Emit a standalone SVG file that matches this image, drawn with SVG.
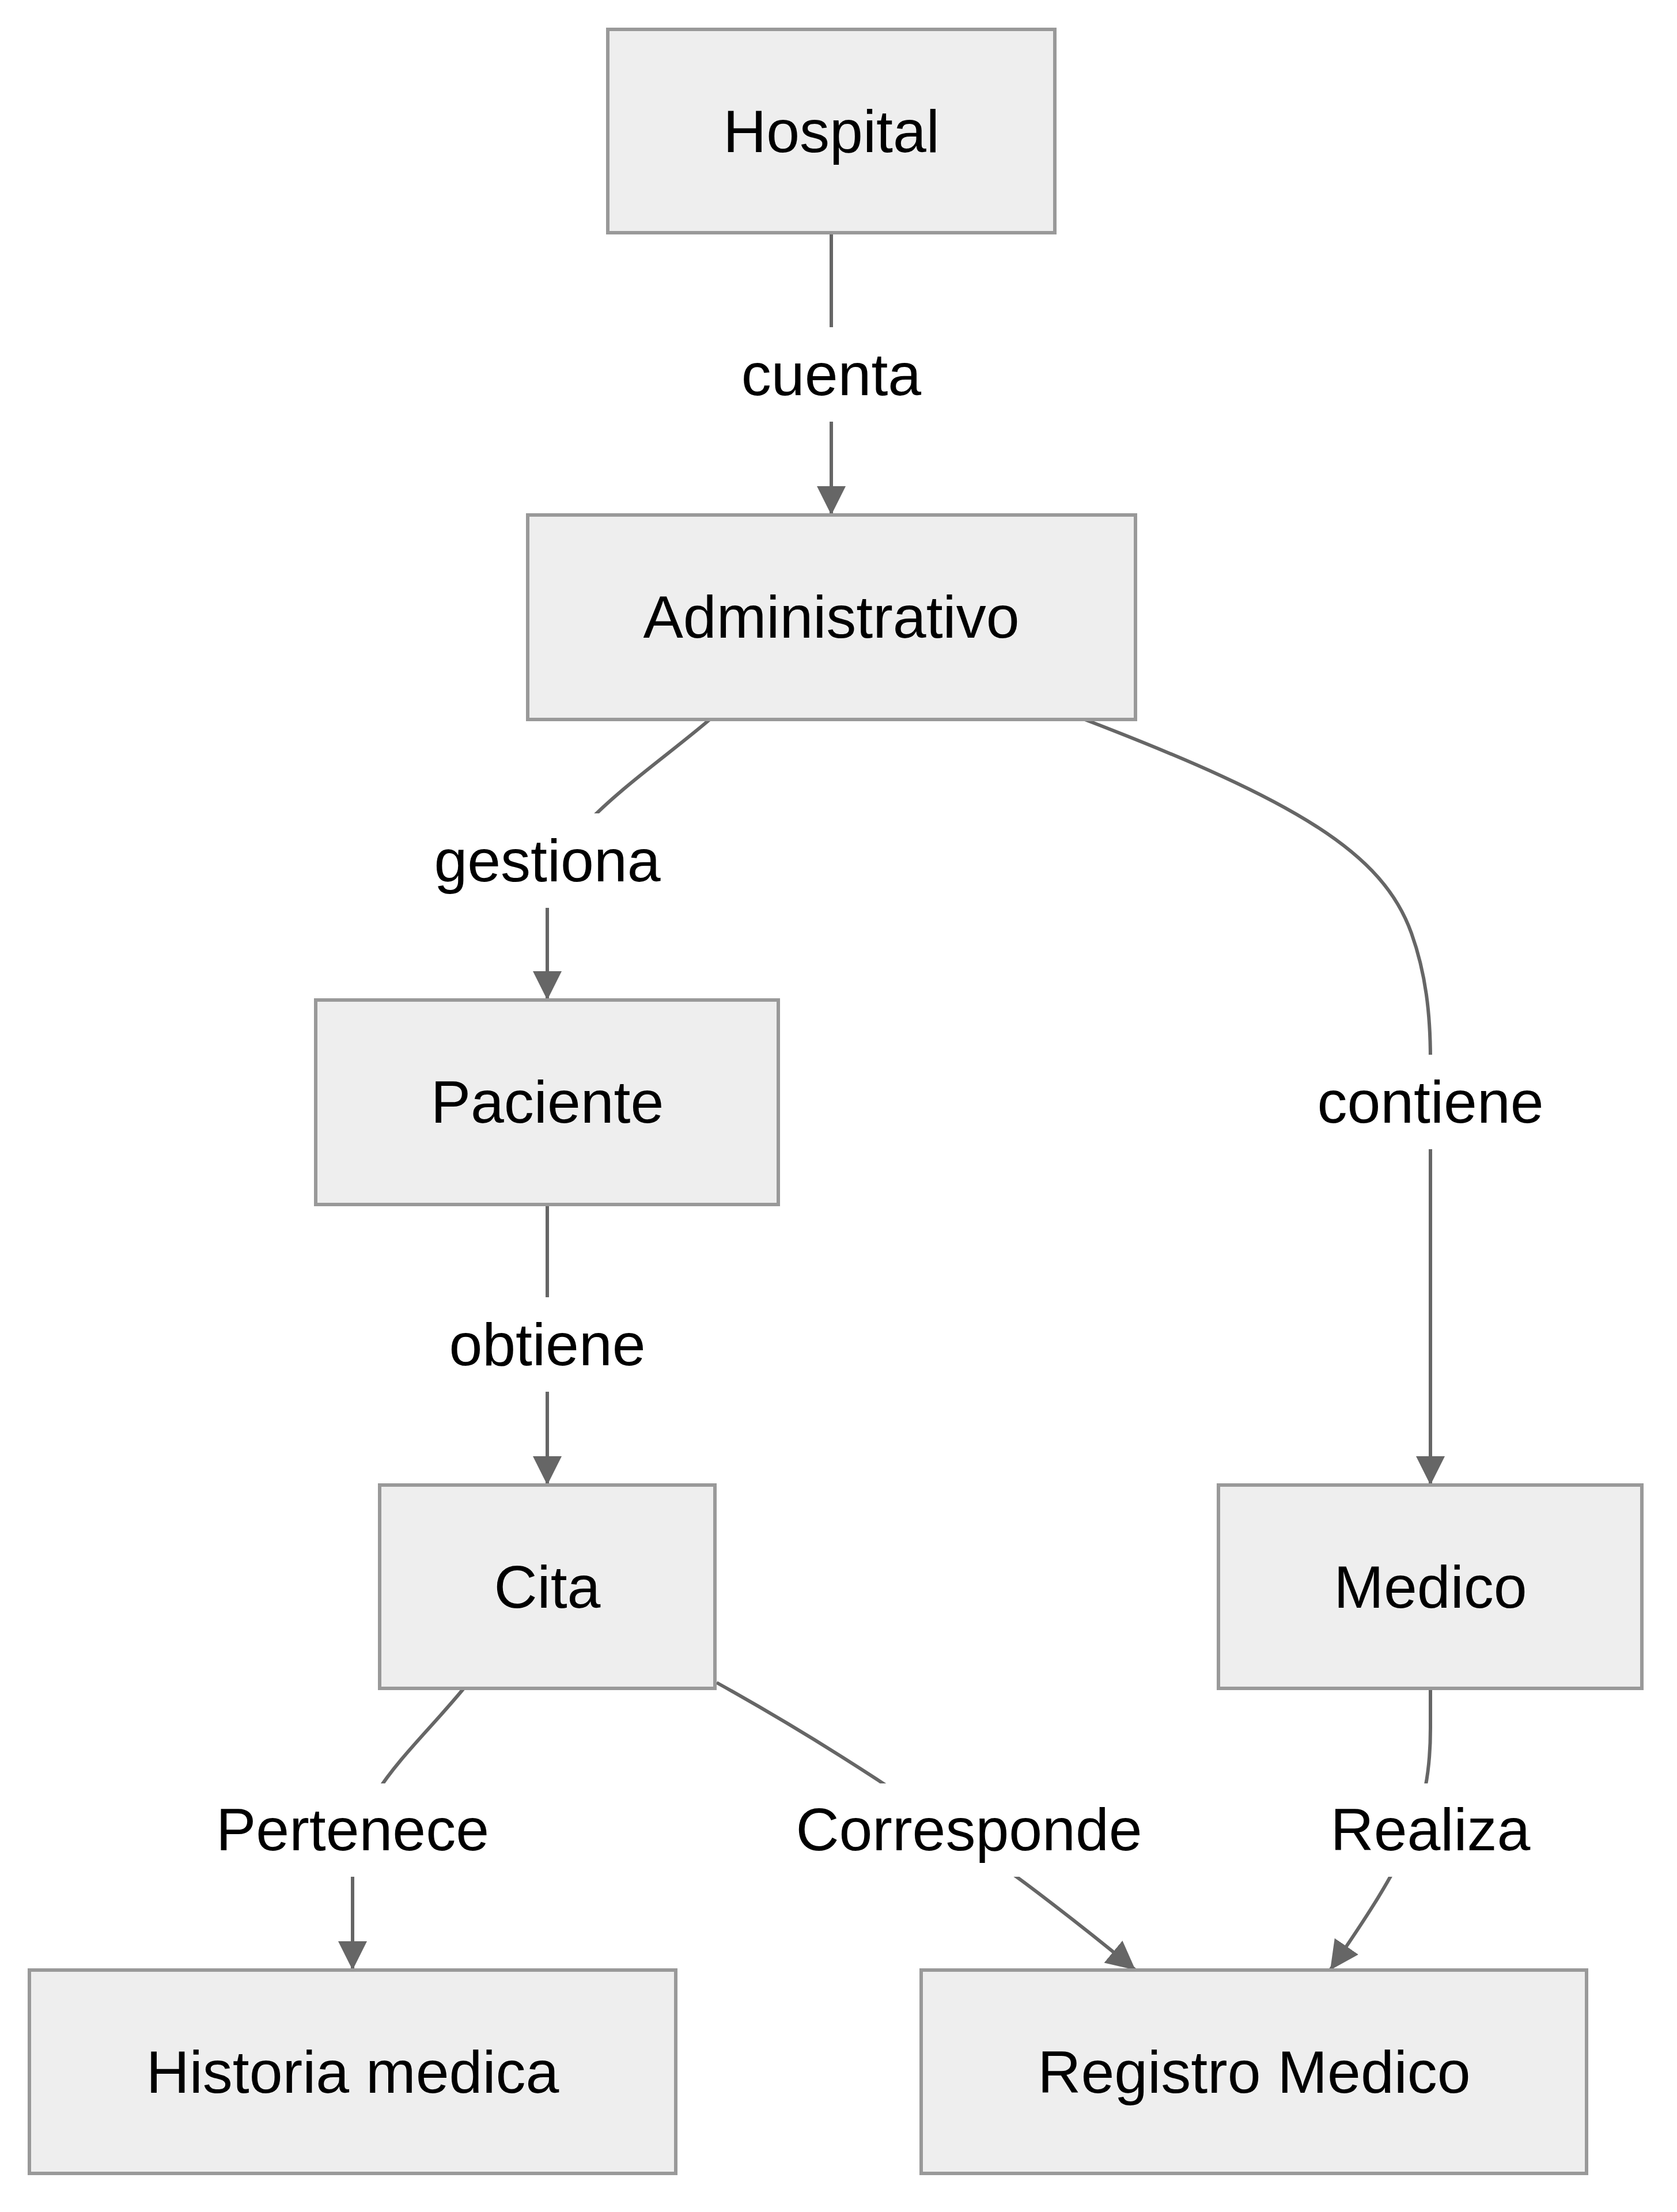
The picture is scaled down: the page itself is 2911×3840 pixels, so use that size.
<svg xmlns="http://www.w3.org/2000/svg" width="2911" height="3840" viewBox="0 0 2911 3840">
<style>
.node rect{fill:#eeeeee;stroke:#999999;stroke-width:6}
.node text,.label text{font-family:"Liberation Sans",Arial,sans-serif;font-size:104px;fill:#000;text-anchor:middle;dominant-baseline:central}
.edge{fill:none;stroke:#666666;stroke-width:6}
.label rect{fill:#ffffff}
</style>
<defs>
<marker id="arrow" viewBox="0 0 10 10" refX="10" refY="5" markerUnits="userSpaceOnUse" markerWidth="50" markerHeight="50" orient="auto">
<path d="M0,0 L10,5 L0,10 z" fill="#666666"/>
</marker>
</defs>
<rect width="2911" height="3840" fill="#ffffff"/>
<g id="connectors">
<path class="edge" d="M1443,404 L1443,894" marker-end="url(#arrow)"/>
<path class="edge" d="M1232,1249 C1120,1345 950,1450 950,1560 L950,1736" marker-end="url(#arrow)"/>
<path class="edge" d="M1883,1249 C2250,1390 2400,1480 2450,1620 C2475,1690 2483,1760 2483,1840 L2483,2578" marker-end="url(#arrow)"/>
<path class="edge" d="M950,2091 L950,2578" marker-end="url(#arrow)"/>
<path class="edge" d="M805,2931 C720,3035 612,3120 612,3240 L612,3420" marker-end="url(#arrow)"/>
<path class="edge" d="M1244,2921 Q1620,3130 1971,3420" marker-end="url(#arrow)"/>
<path class="edge" d="M2483,2931 L2483,3000 C2483,3150 2440,3230 2309,3420" marker-end="url(#arrow)"/>
<g class="label"><rect x="1283" y="568" width="320" height="164"/><text x="1443" y="650">cuenta</text></g>
<g class="label"><rect x="750" y="1412" width="400" height="164"/><text x="950" y="1494">gestiona</text></g>
<g class="label"><rect x="2283" y="1831" width="400" height="164"/><text x="2483" y="1913">contiene</text></g>
<g class="label"><rect x="776" y="2252" width="348" height="164"/><text x="950" y="2334">obtiene</text></g>
<g class="label"><rect x="372" y="3096" width="480" height="162"/><text x="612" y="3176">Pertenece</text></g>
<g class="label"><rect x="1379" y="3096" width="606" height="162"/><text x="1682" y="3176">Corresponde</text></g>
<g class="label"><rect x="2306" y="3096" width="354" height="162"/><text x="2483" y="3176">Realiza</text></g>
</g>
<g id="hospital" class="node"><rect x="1055" y="51" width="776" height="353"/><text x="1443" y="228">Hospital</text></g>
<g id="administrativo" class="node"><rect x="916" y="894" width="1055" height="355"/><text x="1443" y="1071">Administrativo</text></g>
<g id="paciente" class="node"><rect x="548" y="1736" width="803" height="355"/><text x="950" y="1913">Paciente</text></g>
<g id="cita" class="node"><rect x="659" y="2578" width="582" height="353"/><text x="950" y="2755">Cita</text></g>
<g id="medico" class="node"><rect x="2115" y="2578" width="735" height="353"/><text x="2483" y="2755">Medico</text></g>
<g id="historia" class="node"><rect x="51" y="3420" width="1122" height="353"/><text x="612" y="3597">Historia medica</text></g>
<g id="registro" class="node"><rect x="1599" y="3420" width="1155" height="353"/><text x="2177" y="3597">Registro Medico</text></g>
</svg>
